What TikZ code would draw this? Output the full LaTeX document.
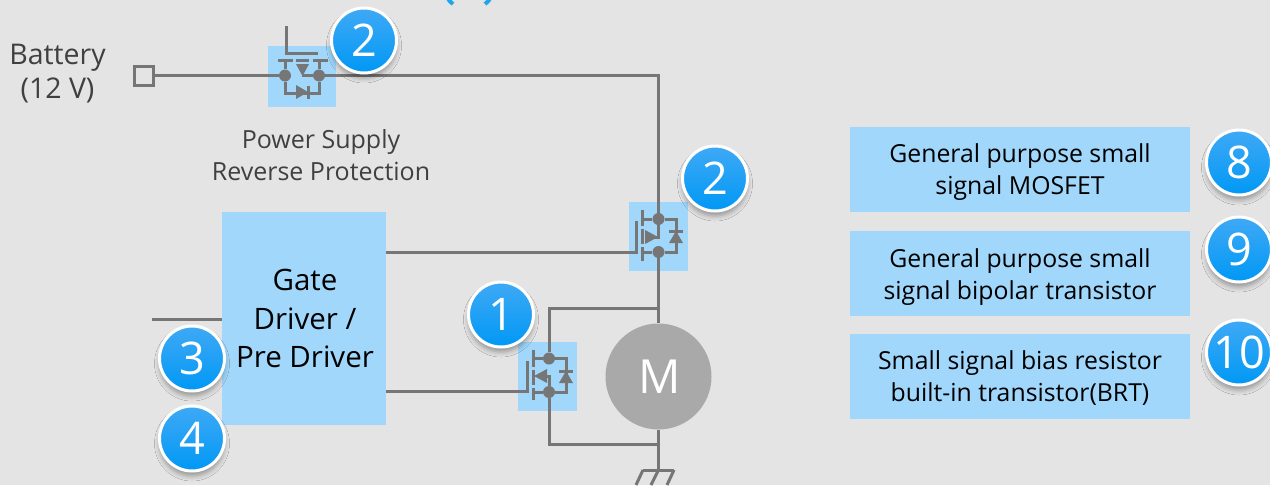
\documentclass[tikz,border=0pt]{standalone}
\usepackage{fontspec}
\setmainfont{Open Sans}
\usetikzlibrary{shadows.blur,calc}
\definecolor{bgc}{HTML}{E4E4E4}
\definecolor{lnc}{HTML}{767676}
\definecolor{boxc}{HTML}{A0D7FB}
\definecolor{txtc}{HTML}{404040}
\definecolor{motc}{HTML}{A9A9A9}
\definecolor{badgetop}{HTML}{3FA9F5}
\definecolor{badgebot}{HTML}{0098F5}
\definecolor{titlec}{HTML}{1FA5EE}
\tikzset{x=1pt,y=-1pt,
 wire/.style={draw=lnc,line width=3pt},
 dot/.style={circle,fill=lnc,minimum size=12pt,inner sep=0pt},
 bluebox/.style={fill=boxc,draw=none,inner sep=0pt,align=center},
 lab/.style={text=txtc,align=center,inner sep=0pt},
 infobox/.style={bluebox,minimum width=340pt,minimum height=85pt,text=black},
 infotext/.style={align=center,inner sep=0pt,text=black,font=\fontsize{24.8pt}{32pt}\selectfont},
 badge/.style={circle,minimum size=65pt,inner sep=0pt,draw=white,line width=3pt,
   top color=badgetop,bottom color=badgebot,text=white,font=\fontsize{45pt}{45pt}\selectfont,
   blur shadow={shadow xshift=0pt,shadow yshift=-5pt,shadow blur radius=5pt,shadow opacity=35}},
}
\begin{document}
\begin{tikzpicture}
\useasboundingbox (0,0) rectangle (1270,485);
\fill[bgc] (0,0) rectangle (1270,485);
% clipped remains of the title
\begin{scope}
\clip (430,0) rectangle (510,8);
\draw[titlec,line width=4pt] (447,-6) .. controls (447,-2) and (449,1) .. (453,4);
\draw[titlec,line width=4pt] (491,-6) .. controls (491,-2) and (489,1) .. (485,4);
\end{scope}
% boxes
\node[bluebox,minimum width=164pt,minimum height=213pt] (gd) at (304,318.5) {};
\fill[boxc] (268,46) rectangle (336,107);
\fill[boxc] (629,202) rectangle (688,271);
\fill[boxc] (518,342) rectangle (577,411);
% coordinates
\coordinate (t) at (658.5,75.5);
\coordinate (j) at (658.5,308);
\coordinate (g1) at (658.5,444);
\coordinate (g2) at (658.5,470);
% wires
\node[draw=lnc,line width=3pt,minimum size=19pt,inner sep=0pt,fill=none] (bat) at (144,76) {};
\node[dot] (q1s) at (285,75.5) {};
\node[dot] (q1d) at (319,75.5) {};
\draw[wire] (bat.east |- q1s) -- (q1s);
\draw[wire] (q1d) -- (t) -- (658.5,214);
\draw[wire] (286,26) -- (286,53) -- (318,53);
\draw[wire] (278,60) -- (293,60) (296,60) -- (309,60) (313,60) -- (328,60);
\draw[wire] (285,60) -- (q1s) -- (285,93) -- (319,93) -- (q1d) -- (319,60);
\draw[wire] (302,75.5) -- (q1d);
\fill[lnc] (296,64) -- (309,64) -- (302.5,76) -- cycle;
\fill[lnc] (296,85) -- (296,99) -- (308,92) -- cycle;
\draw[wire] (308,86) -- (308,99);
% high side
\node[dot] (q2d) at (658.5,219) {};
\node[dot] (q2s) at (658.5,252) {};
\draw[wire] (gd.east |- 0,252) -- (636,252) -- (636,221);
\draw[wire] (642,210) -- (642,226) (642,229) -- (642,244) (642,247) -- (642,261);
\draw[wire] (642,219) -- (q2d) -- (676,219) -- (676,252) -- (q2s) -- (642,252);
\draw[wire] (q2d) -- (658.5,237) -- (645,237);
\fill[lnc] (645,230) -- (645,244) -- (658,237) -- cycle;
\fill[lnc] (669,243) -- (683,243) -- (676,231) -- cycle;
\draw[wire] (669,231) -- (683,231);
\draw[wire] (q2s) -- (j);
% low side
\node[dot] (q3d) at (549,358.5) {};
\node[dot] (q3s) at (549,392) {};
\draw[wire] (j) -- (549,308) -- (q3d);
\draw[wire] (gd.east |- 0,391) -- (527,391) -- (527,361);
\draw[wire] (533,350) -- (533,367) (533,370) -- (533,385) (533,388) -- (533,400);
\draw[wire] (533,358.5) -- (q3d) -- (566,358.5) -- (566,392) -- (q3s) -- (533,392);
\draw[wire] (q3s) -- (549,376) -- (537,376);
\fill[lnc] (547,369) -- (547,383) -- (534,376) -- cycle;
\fill[lnc] (559,383) -- (573,383) -- (566,371) -- cycle;
\draw[wire] (559,371) -- (573,371);
\draw[wire] (q3s) -- (549,444) -- (g1);
% motor
\node[circle,fill=motc,minimum size=106pt,inner sep=0pt] (m) at (658.5,376.5) {};
\node[text=white,inner sep=0pt,font=\fontsize{47pt}{47pt}\selectfont] (mt) at (660,377) {M};
\draw[wire] (j) -- (m.north);
\draw[wire] (m.south) -- (g2);
\draw[wire] (643,470) -- (674,470);
\draw[wire] (643,470) -- (636,485) (658.5,470) -- (651,485) (674,470) -- (667,485);
\draw[wire] (152,319) -- (gd.west |- 0,319);
% text
\node[lab,font=\fontsize{28.5pt}{34pt}\selectfont] (batt) at (57.5,74) {Battery\\(12 V)};
\node[lab,font=\fontsize{25pt}{32pt}\selectfont] (prot) at (321,155) {Power Supply\\Reverse Protection};
\node[align=center,inner sep=0pt,text=black,font=\fontsize{29.5pt}{38.5pt}\selectfont] (gdt) at (305,318.5) {Gate\\Driver /\\Pre Driver};
\node[infobox] (b8) at (1020,169.5) {};
\node[infobox] (b9) at (1020,273.5) {};
\node[infobox] (b10) at (1020,376.5) {};
\node[infotext] (t8) at (1020,172.5) {General purpose small\\signal MOSFET};
\node[infotext] (t9) at (1020,277) {General purpose small\\signal bipolar transistor};
\node[infotext] (t10) at (1020,378.5) {Small signal bias resistor\\built-in transistor(BRT)};
% badges
\node[badge] (n2a) at (364,40.5) {2};
\node[badge] (n2b) at (715,178.5) {2};
\node[badge] (n1) at (501,314.5) {1};
\node[badge] (n3) at (192,358.5) {3};
\node[badge] (n4) at (192,438.5) {4};
\node[badge] (n8) at (1239,162.5) {8};
\node[badge] (n9) at (1239,249.5) {9};
\node[badge] (n10) at (1239,352.5) {10};
\end{tikzpicture}
\end{document}
